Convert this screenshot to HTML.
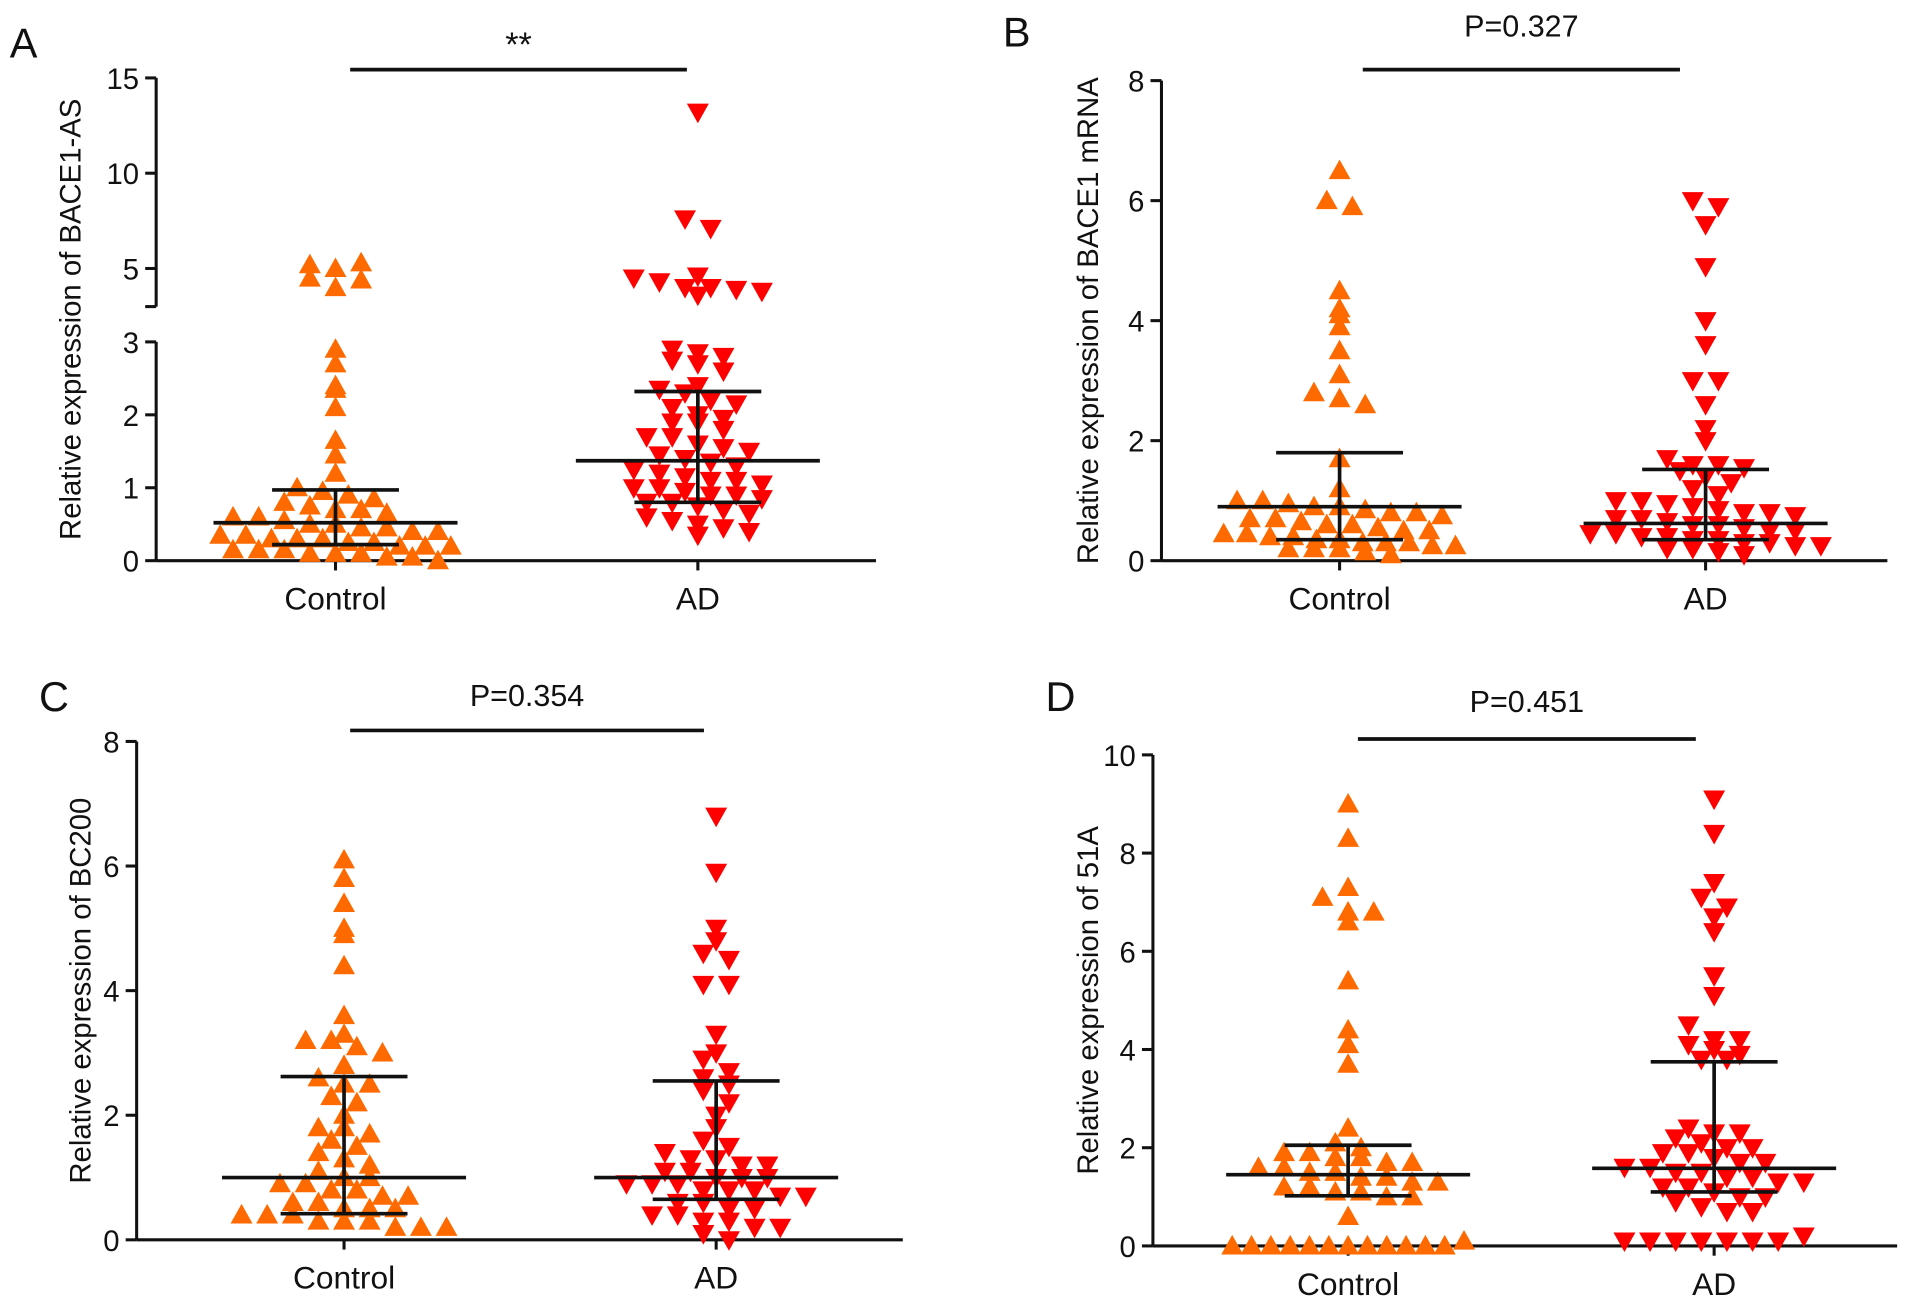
<!DOCTYPE html>
<html><head><meta charset="utf-8"><style>
html,body{margin:0;padding:0;background:#fff;}
svg{display:block;}
text{font-family:"Liberation Sans",Arial,sans-serif;fill:#111;}
</style></head><body>
<svg id="fig" width="1913" height="1307" viewBox="0 0 1568 1070" preserveAspectRatio="none"></svg>
<script>
const categories = ["Control","AD"];
const aCtrl = [5.2,5.0,5.3,4.5,4.0,4.4,2.9,2.7,2.4,2.35,2.1,1.65,1.45,1.2,1.0,0.95,0.9,0.85,0.8,0.75,0.7,0.7,0.65,0.6,0.6,0.55,0.5,0.5,0.45,0.45,0.4,0.4,0.35,0.35,0.3,0.3,0.3,0.25,0.25,0.2,0.2,0.2,0.15,0.15,0.15,0.1,0.1,0.1,0.05,0.05,0.0];
const aAD = [13.2,7.6,7.1,4.6,4.5,4.3,4.0,4.0,3.9,3.8,3.6,2.9,2.85,2.8,2.75,2.7,2.6,2.4,2.35,2.3,2.2,2.15,2.1,2.0,1.95,1.9,1.9,1.8,1.7,1.7,1.6,1.55,1.5,1.45,1.4,1.35,1.3,1.25,1.2,1.15,1.1,1.1,1.05,1.0,1.0,0.95,0.9,0.9,0.85,0.8,0.8,0.75,0.7,0.65,0.6,0.55,0.5,0.45,0.4,0.35];
const aStats = [[0.52,0.22,0.97],[1.37,0.8,2.32]];
const aTicks = [0,1,2,3,5,10,15];
const bCtrl = [6.5,6.0,5.9,4.5,4.2,4.1,3.9,3.5,3.1,2.8,2.7,2.6,1.7,1.2,1.0,1.0,0.95,0.9,0.9,0.85,0.8,0.8,0.75,0.7,0.7,0.65,0.6,0.6,0.55,0.5,0.5,0.45,0.45,0.4,0.4,0.35,0.35,0.3,0.3,0.3,0.25,0.25,0.2,0.2,0.2,0.15,0.1];
const bAD = [6.0,5.9,5.6,4.9,4.0,3.6,3.0,3.0,2.6,2.2,2.0,1.7,1.6,1.6,1.55,1.5,1.4,1.3,1.2,1.1,1.0,1.0,0.95,0.9,0.85,0.8,0.8,0.75,0.7,0.7,0.65,0.6,0.6,0.55,0.5,0.5,0.45,0.45,0.4,0.4,0.35,0.35,0.3,0.3,0.25,0.25,0.2,0.2,0.15,0.1];
const bStats = [[0.9,0.35,1.8],[0.62,0.35,1.52]];
const bTicks = [0,2,4,6,8];
const cCtrl = [6.1,5.8,5.4,5.0,4.9,4.4,3.6,3.3,3.2,3.2,3.1,3.0,2.8,2.6,2.5,2.5,2.3,2.2,2.0,1.8,1.8,1.7,1.6,1.5,1.4,1.3,1.2,1.1,1.0,1.0,0.9,0.9,0.8,0.8,0.7,0.7,0.6,0.6,0.5,0.5,0.5,0.4,0.4,0.4,0.3,0.3,0.3,0.2,0.2,0.2];
const cAD = [6.8,5.9,5.0,4.8,4.6,4.5,4.1,4.1,3.3,3.0,2.9,2.7,2.6,2.5,2.4,2.2,2.0,1.8,1.6,1.5,1.4,1.3,1.3,1.2,1.2,1.1,1.1,1.0,1.0,1.0,0.9,0.9,0.9,0.8,0.8,0.8,0.7,0.7,0.6,0.6,0.5,0.5,0.4,0.4,0.3,0.3,0.2,0.2,0.1,0.0];
const cStats = [[1.0,0.42,2.62],[1.0,0.65,2.55]];
const cTicks = [0,2,4,6,8];
const dCtrl = [9.0,8.3,7.3,7.1,6.8,6.8,6.6,5.4,4.4,4.1,3.7,2.4,2.1,2.0,1.9,1.9,1.8,1.8,1.7,1.7,1.6,1.6,1.5,1.5,1.4,1.4,1.3,1.3,1.2,1.2,1.1,1.1,1.0,1.0,0.6,0,0,0,0,0,0,0,0,0,0,0,0,0.1];
const dAD = [9.1,8.4,7.4,7.1,6.9,6.7,6.4,5.5,5.1,4.5,4.2,4.2,4.1,4.0,3.9,3.8,3.8,2.4,2.3,2.3,2.2,2.1,2.0,2.0,1.9,1.9,1.8,1.7,1.7,1.6,1.6,1.5,1.5,1.4,1.4,1.3,1.3,1.2,1.2,1.1,1.0,1.0,0.9,0.8,0.7,0.7,0.1,0.1,0.1,0.1,0.1,0.1,0.1,0.2];
const dStats = [[1.45,1.02,2.05],[1.58,1.1,3.75]];
const dTicks = [0,2,4,6,8,10];

const NS="http://www.w3.org/2000/svg";
const svg=document.getElementById('fig');
function mk(tag,attrs,parent){const e=document.createElementNS(NS,tag);for(const k in attrs)e.setAttribute(k,attrs[k]);(parent||svg).appendChild(e);return e;}

function panel(p){
  const g=mk('g',{});
  
  
  const y=p.scale;
  const L=mk('text',{x:p.letter[0],y:p.letter[1],'font-size':34},g);L.textContent=p.id.toUpperCase();
  
  
  if(p.brk){
    const a1=mk('line',{x1:p.x0,x2:p.x0,y1:y(0),y2:y(3),stroke:'#111','stroke-width':2.5},g);
    
    
    const a2=mk('line',{x1:p.x0,x2:p.x0,y1:251,y2:y(15),stroke:'#111','stroke-width':2.5},g);
    
    
    mk('line',{x1:p.x0-9,x2:p.x0,y1:251,y2:251,stroke:'#111','stroke-width':2.5},g);
  } else {
    const a=mk('line',{x1:p.x0,x2:p.x0,y1:y(0),y2:y(p.ticks[p.ticks.length-1]),stroke:'#111','stroke-width':2.5},g);
    
    
  }
  p.ticks.forEach(t=>{
    mk('line',{x1:p.x0-9,x2:p.x0,y1:y(t),y2:y(t),stroke:'#111','stroke-width':2.5},g);
    const tx=mk('text',{x:p.x0-14,y:y(t)+9,'font-size':24,'text-anchor':'end'},g);tx.textContent=t;
    
    
  });
  const yl=mk('text',{x:0,y:0,'font-size':24,'text-anchor':'middle',transform:`translate(${p.ylx},${(y(0)+y(p.ticks[p.ticks.length-1]))/2}) rotate(-90)`},g);
  yl.textContent=p.ylabel;
  
  
  const xa=mk('line',{x1:p.x0,x2:p.x1,y1:y(0),y2:y(0),stroke:'#111','stroke-width':2.5},g);
  
  
  categories.forEach((c,i)=>{
    mk('line',{x1:p.cx[i],x2:p.cx[i],y1:y(0),y2:y(0)+8,stroke:'#111','stroke-width':2.5},g);
    const t=mk('text',{x:p.cx[i],y:y(0)+40,'font-size':26,'text-anchor':'middle'},g);t.textContent=c;
    
    
  });
  [p.ctrl,p.ad].forEach((vals,gi)=>{
    const bins={};
    vals.forEach(v=>{const b=Math.round(y(v)/13);(bins[b]=bins[b]||[]).push(v);});
    Object.keys(bins).forEach(b=>{
      const arr=bins[b];const n=arr.length;
      const sp=Math.min(21, n>1?190/(n-1):21);
      arr.forEach((v,k)=>{
        const cx=p.cx[gi]+(k-(n-1)/2)*sp, cy=y(v);
        const pts = gi===0 ? `${cx-9},${cy+7} ${cx+9},${cy+7} ${cx},${cy-9}` : `${cx-9},${cy-7} ${cx+9},${cy-7} ${cx},${cy+9}`;
        const m=mk('polygon',{points:pts,fill:gi===0?'#ff6a00':'#ff0000'},g);
        
        
      });
    });
  });
  p.stats.forEach((s,i)=>{
    const cx=p.cx[i];
    const med=mk('line',{x1:cx-100,x2:cx+100,y1:y(s[0]),y2:y(s[0]),stroke:'#111','stroke-width':3},g);
    
    
    const v=mk('line',{x1:cx,x2:cx,y1:y(s[1]),y2:y(s[2]),stroke:'#111','stroke-width':3},g);
    
    
    [s[1],s[2]].forEach(w=>mk('line',{x1:cx-52,x2:cx+52,y1:y(w),y2:y(w),stroke:'#111','stroke-width':3},g));
  });
  const sl=mk('line',{x1:p.sig[0],x2:p.sig[1],y1:p.sig[2],y2:p.sig[2],stroke:'#111','stroke-width':3},g);
  
  
  const st=mk('text',{x:(p.sig[0]+p.sig[1])/2,y:p.sig[3],'font-size':p.sigText==='**'?28:25,'text-anchor':'middle'},g);
  st.textContent=p.sigText;
  
  
}
function lin(y0,yTop,top){return v=>y0-(y0-yTop)*v/top;}
panel({id:'a',x0:128,x1:718,cx:[275,572],ctrl:aCtrl,ad:aAD,stats:aStats,ticks:aTicks,brk:true,
  scale:v=>v<=3?459-59.7*v:251-15.6*(v-3),letter:[8,47],ylx:66,ylabel:'Relative expression of BACE1-AS',
  sig:[287,563,57,46],sigText:'**'});
panel({id:'b',x0:952,x1:1547,cx:[1098,1398],ctrl:bCtrl,ad:bAD,stats:bStats,ticks:bTicks,
  scale:lin(459,66,8),letter:[822,38],ylx:900,ylabel:'Relative expression of BACE1 mRNA',
  sig:[1117,1377,57,30],sigText:'P=0.327'});
panel({id:'c',x0:112,x1:740,cx:[282,587],ctrl:cCtrl,ad:cAD,stats:cStats,ticks:cTicks,
  scale:lin(1015,607,8),letter:[32,582],ylx:74,ylabel:'Relative expression of BC200',
  sig:[287,577,598,578],sigText:'P=0.354'});
panel({id:'d',x0:945,x1:1555,cx:[1105,1405],ctrl:dCtrl,ad:dAD,stats:dStats,ticks:dTicks,
  scale:lin(1020,618,10),letter:[857,582],ylx:900,ylabel:'Relative expression of 51A',
  sig:[1113,1390,605,583],sigText:'P=0.451'});
</script>
</body></html>
